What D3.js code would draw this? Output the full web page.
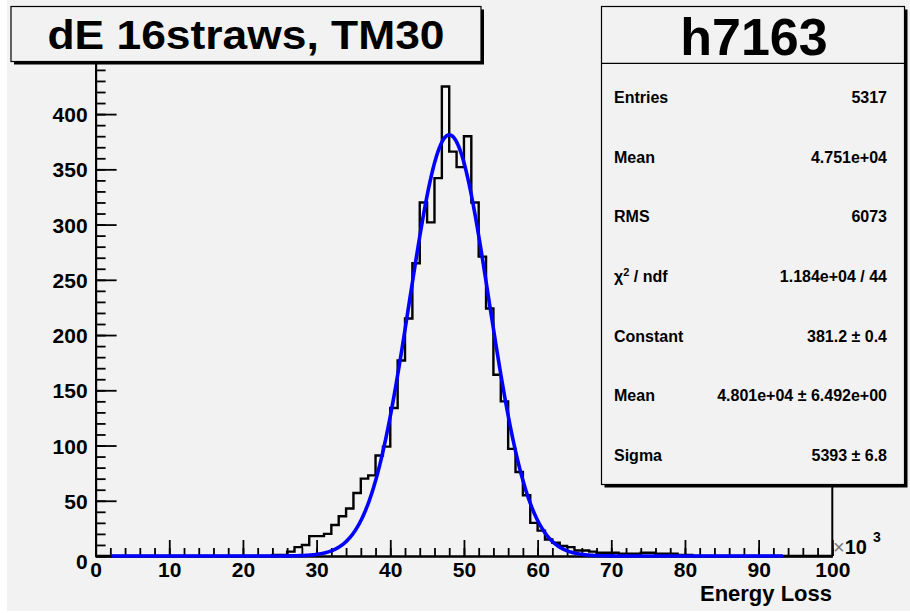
<!DOCTYPE html>
<html>
<head>
<meta charset="utf-8">
<script src="https://cdn.jsdelivr.net/npm/d3@7"></script>
<style>
  body { margin: 0; background: #ffffff; }
  svg { display: block; }
  text { font-family: "Liberation Sans", Arial, Helvetica, sans-serif; }
</style>
</head>
<body>
<svg id="chart" width="910" height="613"></svg>
<script>
// ---------------- data ----------------
const titleText = "dE 16straws, TM30";
const histName = "h7163";
const xTitle = "Energy Loss";
const xDomain = [0, 100];          // in units of 10^3
const binWidth = 1;                // 100 bins over [0,100]
const firstBin = 24;               // index of first listed bin
const counts = [
  1, 1, 4, 8, 10, 18, 18, 20, 28, 36,          // bins 24-33
  43, 57, 70, 73, 91, 99, 134, 177, 215, 265,  // bins 34-43
  320, 302, 342, 425, 366, 352, 380, 320, 271, 224, // bins 44-53
  164, 140, 97, 76, 55, 30, 23, 15, 12, 9,     // bins 54-63
  8, 5, 5, 4, 3, 3, 3, 2, 2, 2,                // bins 64-73
  3, 3, 2, 2, 2, 1, 1                          // bins 74-80
];
const nBins = 100;
const xTickValues = [0, 10, 20, 30, 40, 50, 60, 70, 80, 90, 100];
const xTickLabels = ["0", "10", "20", "30", "40", "50", "60", "70", "80", "90", "100"];
const yTickValues = [0, 50, 100, 150, 200, 250, 300, 350, 400];
const yTickLabels = ["0", "50", "100", "150", "200", "250", "300", "350", "400"];
const yMax = 446.25;
// gaussian fit parameters (constant, mean [10^3], sigma [10^3]) and fit range
const fitConstant = 381.2;
const fitMean = 48.01;
const fitSigma = 5.393;
const fitRange = [2.2, 93.3];
const statsLabels = ["Entries", "Mean", "RMS", "\u03C7\u00B2 / ndf", "Constant", "Mean", "Sigma"];
const statsValues = ["5317", "4.751e+04", "6073", "1.184e+04 / 44", "381.2 \u00B1 0.4",
                     "4.801e+04 \u00B1 6.492e+00", "5393 \u00B1 6.8"];

// ---------------- drawing ----------------
const svg = d3.select("#chart");
const bg = "#f2f2f2";

svg.append("rect").attr("x", 7).attr("y", 0).attr("width", 903).attr("height", 611).attr("fill", bg);

const x = d3.scaleLinear().domain(xDomain).range([95.6, 832.3]);
const y = d3.scaleLinear().domain([0, yMax]).range([556, 63]);

// histogram bins
const bins = d3.range(nBins).map(i => {
  const k = i - firstBin;
  return { lo: i * binWidth, hi: (i + 1) * binWidth, v: (k >= 0 && k < counts.length) ? counts[k] : 0 };
});

// frame (right side)
svg.append("line").attr("x1", x(100)).attr("x2", x(100)).attr("y1", y(yMax)).attr("y2", y(0))
  .attr("stroke", "#000").attr("stroke-width", 2);

// histogram outline
const pts = [];
pts.push([x(bins[0].lo), y(0)]);
bins.forEach(b => { pts.push([x(b.lo), y(b.v)]); pts.push([x(b.hi), y(b.v)]); });
pts.push([x(bins[nBins - 1].hi), y(0)]);
svg.append("path").attr("d", d3.line()(pts)).attr("fill", "none")
  .attr("stroke", "#000").attr("stroke-width", 2.4).attr("stroke-linejoin", "miter");

// axes
const axisFont = 'bold 21px "Liberation Sans", Arial, sans-serif';
const xAxisMinor = d3.axisBottom(x).tickValues(d3.range(0, 101, 2)).tickSizeInner(-8).tickSizeOuter(0).tickFormat("");
const xAxisMajor = d3.axisBottom(x).tickValues(xTickValues).tickSizeInner(-16).tickSizeOuter(0)
  .tickPadding(7).tickFormat((d, i) => xTickLabels[i]);
const gxm = svg.append("g").attr("transform", `translate(0,${y(0)})`).call(xAxisMinor);
const gx = svg.append("g").attr("transform", `translate(0,${y(0)})`).call(xAxisMajor);

const yAxisMinor = d3.axisLeft(y).tickValues(d3.range(0, 441, 10)).tickSizeInner(-10).tickSizeOuter(0).tickFormat("");
const yAxisMajor = d3.axisLeft(y).tickValues(yTickValues).tickSizeInner(-21).tickSizeOuter(0)
  .tickPadding(8).tickFormat((d, i) => yTickLabels[i]);
const gym = svg.append("g").attr("transform", `translate(${x(0)},0)`).call(yAxisMinor);
const gy = svg.append("g").attr("transform", `translate(${x(0)},0)`).call(yAxisMajor);

[gxm, gx, gym, gy].forEach(g => {
  g.selectAll("path.domain").attr("stroke", "#000").attr("stroke-width", 2);
  g.selectAll(".tick line").attr("stroke", "#000").attr("stroke-width", 1.8);
  g.selectAll("text").style("font", axisFont).attr("fill", "#000");
});
gx.selectAll("text").attr("dy", "0.71em").attr("y", 6);
gy.selectAll("text").attr("dy", "0.36em").attr("x", -8);
gy.selectAll(".tick").filter(d => d === 0).select("text").attr("dy", "0.6em");

// x multiplier and title
const mult = svg.append("text").attr("x", 833).attr("y", 554).style("font", 'bold 20px "Liberation Sans", Arial, sans-serif');
mult.append("tspan").text("\u00D7").attr("fill", "#777").style("font-weight", "normal");
mult.append("tspan").text("10").attr("fill", "#000");
svg.append("text").attr("x", 873).attr("y", 542).text("3")
  .style("font", 'bold 14px "Liberation Sans", Arial, sans-serif');
svg.append("text").attr("x", 832).attr("y", 601).attr("text-anchor", "end").text(xTitle)
  .style("font", 'bold 22px "Liberation Sans", Arial, sans-serif');

// gaussian fit curve
const fitPts = d3.range(fitRange[0], fitRange[1] + 1e-9, 0.1).map(v =>
  [x(v), y(fitConstant * Math.exp(-0.5 * Math.pow((v - fitMean) / fitSigma, 2)))]);
svg.append("path").attr("d", d3.line()(fitPts)).attr("fill", "none")
  .attr("stroke", "#0000ff").attr("stroke-width", 3.6).attr("stroke-linejoin", "round");

// title box with shadow
function shadowBox(x0, y0, w, h) {
  svg.append("rect").attr("x", x0 + 3).attr("y", y0 + 3).attr("width", w).attr("height", h).attr("fill", "#000");
  svg.append("rect").attr("x", x0).attr("y", y0).attr("width", w).attr("height", h)
    .attr("fill", bg).attr("stroke", "#000").attr("stroke-width", 1.2);
}
shadowBox(11, 6.5, 470, 55);
svg.append("text").attr("x", 246).attr("y", 49).attr("text-anchor", "middle")
  .attr("textLength", 397).attr("lengthAdjust", "spacingAndGlyphs")
  .text(titleText).style("font", 'bold 40px "Liberation Sans", Arial, sans-serif');

// stats box
shadowBox(601.5, 6.5, 303, 478);
svg.append("line").attr("x1", 601.5).attr("x2", 904.5).attr("y1", 63.3).attr("y2", 63.3)
  .attr("stroke", "#000").attr("stroke-width", 1.2);
svg.append("text").attr("x", 754).attr("y", 55).attr("text-anchor", "middle").text(histName)
  .style("font", 'bold 52px "Liberation Sans", Arial, sans-serif');

const statFont = 'bold 16px "Liberation Sans", Arial, sans-serif';
const rowY = d3.scaleLinear().domain([0, statsLabels.length - 1]).range([103, 461]);
statsLabels.forEach((lab, i) => {
  const t = svg.append("text").attr("x", 614).attr("y", rowY(i)).style("font", statFont);
  if (lab.indexOf("\u00B2") >= 0) {
    t.append("tspan").text("\u03C7");
    t.append("tspan").text("2").attr("dy", -6).style("font-size", "11px");
    t.append("tspan").text(" / ndf").attr("dy", 6);
  } else {
    t.text(lab);
  }
});
statsValues.forEach((val, i) => {
  svg.append("text").attr("x", 887).attr("y", rowY(i)).attr("text-anchor", "end")
    .text(val).style("font", statFont);
});
</script>
</body>
</html>
